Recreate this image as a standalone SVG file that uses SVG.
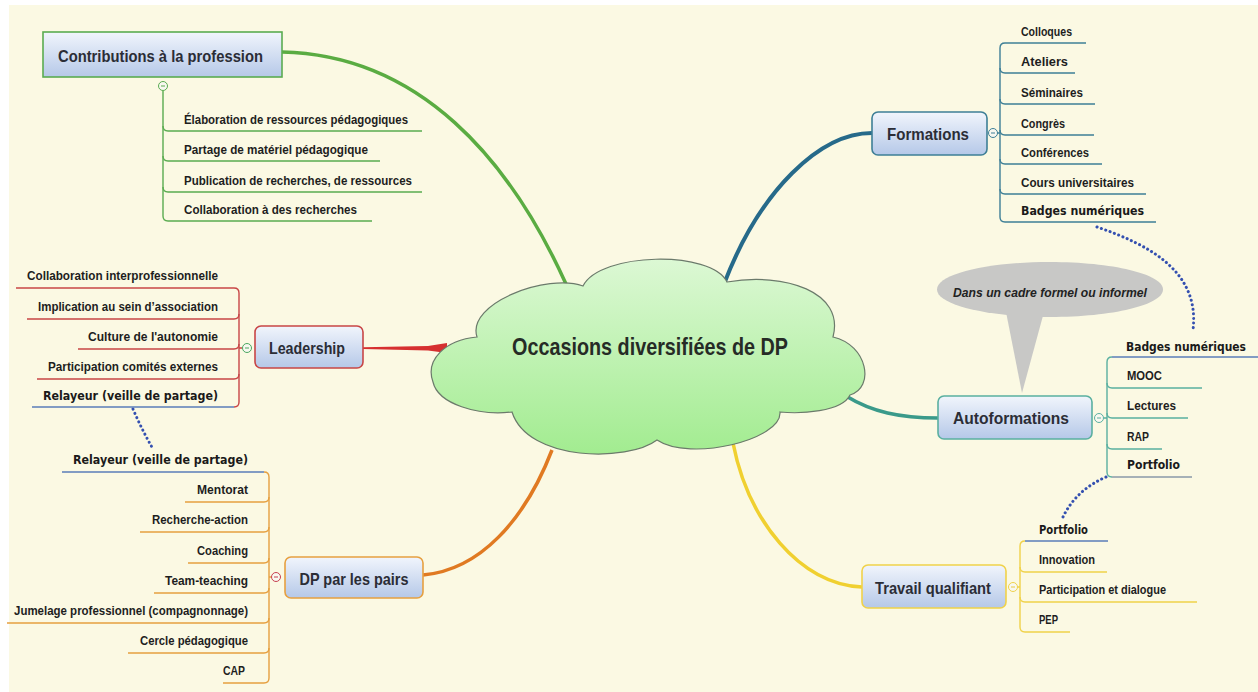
<svg xmlns="http://www.w3.org/2000/svg" width="1258" height="692" viewBox="0 0 1258 692">
<defs>
<linearGradient id="boxg" x1="0" y1="0" x2="0" y2="1">
<stop offset="0" stop-color="#f1f5fc"/>
<stop offset="1" stop-color="#b5c8e8"/>
</linearGradient>
<linearGradient id="cloudg" x1="0" y1="0" x2="0" y2="1">
<stop offset="0" stop-color="#dcf8d4"/>
<stop offset="1" stop-color="#a2ec90"/>
</linearGradient>
<style>
.title{font-family:"Liberation Sans",Arial,sans-serif;font-weight:bold;font-size:17px;fill:#2b2d36}
.lbl{font-family:"Liberation Sans",Arial,sans-serif;font-weight:bold;font-size:12.5px;fill:#1e1e1e}
.lbv{font-family:"DejaVu Sans",Verdana,sans-serif;font-weight:bold;font-size:12px;fill:#1a1a1a}
.box{fill:url(#boxg);stroke-width:1.6}
.br{fill:none;stroke-width:1.4}
.dot{fill:none;stroke:#3450b0;stroke-width:3;stroke-dasharray:0.1 4.5;stroke-linecap:round}
.cc{fill:#f8f8f0;stroke-width:1}
.g{stroke:#5aac50}
.b{stroke:#3e7f96}
.r{stroke:#c84646}
.o{stroke:#e6a040}
.t{stroke:#5ab0a0}
.y{stroke:#f0d24a}
.bl{stroke:#5a7cb8}
</style>
</defs>
<rect x="0" y="0" width="1258" height="692" fill="#ffffff"/>
<rect x="9" y="5" width="1249" height="687" fill="#fbf9e3"/>

<g id="connectors">
<path d="M282,52 C420,55 510,160 566,284" fill="none" stroke="#5aac42" stroke-width="3.5"/>
<path d="M872,133 C820,133 760,190 724,284" fill="none" stroke="#266a8a" stroke-width="4"/>
<path d="M363,347.3 L428,346 L447,343 L447,353 L428,350.5 L363,349 Z" fill="#d63030"/>
<path d="M423,575 C480,570 525,520 552,450" fill="none" stroke="#e07a22" stroke-width="3.5"/>
<path d="M938,418 C900,418 872,412 846,396" fill="none" stroke="#3a9a8a" stroke-width="3.5"/>
<path d="M862,587 C800,585 748,520 733,443" fill="none" stroke="#f0d030" stroke-width="3.5"/>
<path class="dot" d="M133,409 Q142,430 153,449"/>
<path class="dot" d="M1097,227 C1150,245 1200,272 1193,330"/>
<path class="dot" d="M1106,477 Q1076,490 1063,517"/>
</g>

<g id="central">
<path d="M583,286 C600,252 712,250 727,282 C785,272 845,292 833,337 C868,345 875,388 850,395 C842,412 800,414 780,412 C782,440 690,462 657,440 C628,462 528,462 512,412 C478,416 438,404 433,382 C425,360 445,340 477,337 C466,303 548,273 583,286 Z" fill="url(#cloudg)" stroke="#6b7a6b" stroke-width="1.2"/>
<text x="650" y="355" text-anchor="middle" font-family="Liberation Sans, Arial, sans-serif" font-weight="bold" font-size="24" fill="#262b26" textLength="276" lengthAdjust="spacingAndGlyphs">Occasions diversifiées de DP</text>
</g>

<g id="contributions">
<rect class="box g" x="43" y="32" width="239" height="45"/>
<text class="title" x="58" y="62" textLength="205" lengthAdjust="spacingAndGlyphs">Contributions à la profession</text>
<path class="br g" d="M163,91 V216 Q163,221 168,221 H372"/>
<path class="br g" d="M163,126 Q163,131 168,131 H422"/>
<path class="br g" d="M163,156 Q163,161 168,161 H380"/>
<path class="br g" d="M163,187 Q163,192 168,192 H422"/>
<circle class="cc g" cx="163" cy="86" r="4.5"/>
<path d="M161,86 H165" stroke="#5aac50" stroke-width="1"/>
<text class="lbl" x="184" y="124" textLength="224" lengthAdjust="spacingAndGlyphs">Élaboration de ressources pédagogiques</text>
<text class="lbl" x="184" y="154" textLength="184" lengthAdjust="spacingAndGlyphs">Partage de matériel pédagogique</text>
<text class="lbl" x="184" y="185" textLength="228" lengthAdjust="spacingAndGlyphs">Publication de recherches, de ressources</text>
<text class="lbl" x="184" y="214" textLength="173" lengthAdjust="spacingAndGlyphs">Collaboration à des recherches</text>
</g>

<g id="formations">
<rect class="box b" x="872" y="112" width="115" height="43" rx="6"/>
<text class="title" x="928" y="140" text-anchor="middle" textLength="82" lengthAdjust="spacingAndGlyphs">Formations</text>
<path class="br b" d="M1005,43 Q1000,43 1000,48 V217 Q1000,222 1005,222 H1156"/>
<path class="br b" d="M1005,43 H1086"/>
<path class="br b" d="M1000,68 Q1000,73 1005,73 H1075"/>
<path class="br b" d="M1000,99 Q1000,104 1005,104 H1095"/>
<path class="br b" d="M997.5,133 H1000 M1000,130 Q1000,135 1005,135 H1094"/>
<path class="br b" d="M1000,159 Q1000,164 1005,164 H1102"/>
<path class="br b" d="M1000,189 Q1000,194 1005,194 H1146"/>
<circle class="cc b" cx="993" cy="133" r="4.5"/>
<path d="M991,133 H995" stroke="#3e7f96" stroke-width="1"/>
<text class="lbl" x="1021" y="36" textLength="51" lengthAdjust="spacingAndGlyphs">Colloques</text>
<text class="lbl" x="1021" y="66" textLength="47" lengthAdjust="spacingAndGlyphs">Ateliers</text>
<text class="lbl" x="1021" y="97" textLength="62" lengthAdjust="spacingAndGlyphs">Séminaires</text>
<text class="lbl" x="1021" y="128" textLength="44" lengthAdjust="spacingAndGlyphs">Congrès</text>
<text class="lbl" x="1021" y="157" textLength="68" lengthAdjust="spacingAndGlyphs">Conférences</text>
<text class="lbl" x="1021" y="187" textLength="113" lengthAdjust="spacingAndGlyphs">Cours universitaires</text>
<text class="lbv" x="1021" y="215" textLength="123" lengthAdjust="spacingAndGlyphs">Badges numériques</text>
</g>

<g id="leadership">
<rect class="box r" x="255" y="326" width="108" height="42" rx="6"/>
<text class="title" x="307" y="354" text-anchor="middle" textLength="76" lengthAdjust="spacingAndGlyphs">Leadership</text>
<path class="br r" d="M234,288 Q239,288 239,293 V402 Q239,407 234,407"/>
<path class="br r" d="M16,288 H234"/>
<path class="br r" d="M27,319 H234 Q239,319 239,314"/>
<path class="br r" d="M78,349 H234 Q239,349 239,344 M239,348 H242.5"/>
<path class="br r" d="M37,379 H234 Q239,379 239,374"/>
<path class="br bl" d="M32,407 H234"/>
<circle class="cc" cx="247" cy="348" r="4.5" stroke="#4aa860"/>
<path d="M245,348 H249" stroke="#4aa860" stroke-width="1"/>
<text class="lbl" x="218" y="280" text-anchor="end" textLength="191" lengthAdjust="spacingAndGlyphs">Collaboration interprofessionnelle</text>
<text class="lbl" x="218" y="311" text-anchor="end" textLength="180" lengthAdjust="spacingAndGlyphs">Implication au sein d’association</text>
<text class="lbl" x="218" y="341" text-anchor="end" textLength="130" lengthAdjust="spacingAndGlyphs">Culture de l'autonomie</text>
<text class="lbl" x="218" y="371" text-anchor="end" textLength="170" lengthAdjust="spacingAndGlyphs">Participation comités externes</text>
<text class="lbv" x="218" y="400" text-anchor="end" textLength="175" lengthAdjust="spacingAndGlyphs">Relayeur (veille de partage)</text>
</g>

<g id="pairs">
<rect class="box o" x="285" y="557" width="138" height="41" rx="6"/>
<text class="title" x="354" y="585" text-anchor="middle" textLength="109" lengthAdjust="spacingAndGlyphs">DP par les pairs</text>
<path class="br o" d="M264,472 Q269,472 269,477 V678 Q269,683 264,683 H223"/>
<path class="br bl" d="M62,472 H264"/>
<path class="br o" d="M185,502 H264 Q269,502 269,497"/>
<path class="br o" d="M140,532 H264 Q269,532 269,527"/>
<path class="br o" d="M188,563 H264 Q269,563 269,558"/>
<path class="br o" d="M154,593 H264 Q269,593 269,588 M269,577 H271.5"/>
<path class="br o" d="M7,623 H264 Q269,623 269,618"/>
<path class="br o" d="M128,653 H264 Q269,653 269,648"/>
<circle class="cc" cx="276" cy="577" r="4.5" stroke="#c84050"/>
<path d="M274,577 H278" stroke="#c84050" stroke-width="1"/>
<text class="lbv" x="248" y="464" text-anchor="end" textLength="175" lengthAdjust="spacingAndGlyphs">Relayeur (veille de partage)</text>
<text class="lbl" x="248" y="494" text-anchor="end" textLength="51" lengthAdjust="spacingAndGlyphs">Mentorat</text>
<text class="lbl" x="248" y="524" text-anchor="end" textLength="96" lengthAdjust="spacingAndGlyphs">Recherche-action</text>
<text class="lbl" x="248" y="555" text-anchor="end" textLength="51" lengthAdjust="spacingAndGlyphs">Coaching</text>
<text class="lbl" x="248" y="585" text-anchor="end" textLength="83" lengthAdjust="spacingAndGlyphs">Team-teaching</text>
<text class="lbl" x="248" y="615" text-anchor="end" textLength="234" lengthAdjust="spacingAndGlyphs">Jumelage professionnel (compagnonnage)</text>
<text class="lbl" x="248" y="645" text-anchor="end" textLength="108" lengthAdjust="spacingAndGlyphs">Cercle pédagogique</text>
<text class="lbl" x="245" y="675" text-anchor="end" textLength="22" lengthAdjust="spacingAndGlyphs">CAP</text>
</g>

<g id="autoformations">
<path d="M1050,262 C1112,262 1163,274 1163,289.5 C1163,305 1112,317 1050,317 C988,317 937,305 937,289.5 C937,274 988,262 1050,262 Z" fill="#c8c8c6"/>
<path d="M1006,312 L1022,393 L1044,312 Z" fill="#c8c8c6"/>
<text x="1050" y="297" text-anchor="middle" font-family="Liberation Sans, Arial, sans-serif" font-style="italic" font-weight="bold" font-size="13" fill="#222" textLength="194" lengthAdjust="spacingAndGlyphs">Dans un cadre formel ou informel</text>
<rect class="box t" x="938" y="396" width="154" height="43" rx="6"/>
<text class="title" x="1011" y="424" text-anchor="middle" textLength="116" lengthAdjust="spacingAndGlyphs">Autoformations</text>
<path class="br t" d="M1112,357 Q1107,357 1107,362 V472 Q1107,477 1112,477"/>
<path class="br bl" d="M1112,357 H1258"/>
<path class="br t" d="M1107,383 Q1107,388 1112,388 H1202"/>
<path class="br t" d="M1104,418 H1107 M1107,413 Q1107,418 1112,418 H1188"/>
<path class="br t" d="M1107,444 Q1107,449 1112,449 H1162"/>
<path class="br" stroke="#8a98a8" d="M1112,477 H1192"/>
<circle class="cc t" cx="1099" cy="418" r="4.5"/>
<path d="M1097,418 H1101" stroke="#5ab0a0" stroke-width="1"/>
<text class="lbv" x="1126" y="351" font-size="11.5" textLength="120" lengthAdjust="spacingAndGlyphs">Badges numériques</text>
<text class="lbl" x="1127" y="380" textLength="35" lengthAdjust="spacingAndGlyphs">MOOC</text>
<text class="lbl" x="1127" y="410" textLength="49" lengthAdjust="spacingAndGlyphs">Lectures</text>
<text class="lbl" x="1127" y="441" textLength="22" lengthAdjust="spacingAndGlyphs">RAP</text>
<text class="lbv" x="1127" y="469" textLength="53" lengthAdjust="spacingAndGlyphs">Portfolio</text>
</g>

<g id="travail">
<rect class="box y" x="862" y="565" width="144" height="43" rx="6"/>
<text class="title" x="933" y="594" text-anchor="middle" textLength="116" lengthAdjust="spacingAndGlyphs">Travail qualifiant</text>
<path class="br y" d="M1025,541 Q1020,541 1020,546 V627 Q1020,632 1025,632 H1070"/>
<path class="br bl" d="M1025,541 H1108"/>
<path class="br y" d="M1020,567 Q1020,572 1025,572 H1107"/>
<path class="br y" d="M1017.5,587 H1020 M1020,597 Q1020,602 1025,602 H1197"/>
<circle class="cc y" cx="1013" cy="587" r="4.5"/>
<path d="M1011,587 H1015" stroke="#e8c840" stroke-width="1"/>
<text class="lbv" x="1039" y="534" textLength="49" lengthAdjust="spacingAndGlyphs">Portfolio</text>
<text class="lbl" x="1039" y="564" textLength="56" lengthAdjust="spacingAndGlyphs">Innovation</text>
<text class="lbl" x="1039" y="594" textLength="127" lengthAdjust="spacingAndGlyphs">Participation et dialogue</text>
<text class="lbl" x="1039" y="624" textLength="19" lengthAdjust="spacingAndGlyphs">PEP</text>
</g>
</svg>
